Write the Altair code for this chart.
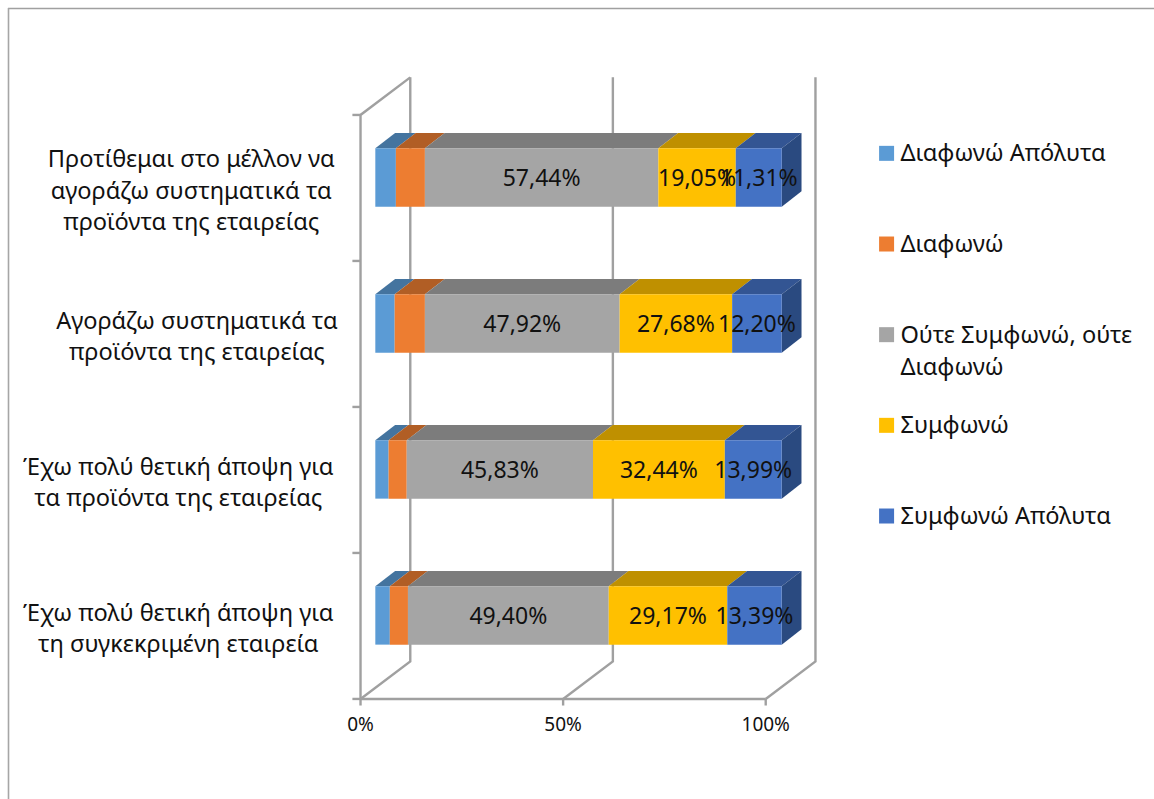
import altair as alt
import pandas as pd

FONT = "Noto Sans"

# Survey answers, top row of the chart first (percent of respondents)
CATEGORIES = [
    ["Προτίθεμαι στο μέλλον να", "αγοράζω συστηματικά τα", "προϊόντα της εταιρείας"],
    ["Αγοράζω συστηματικά τα", "προϊόντα της εταιρείας"],
    ["Έχω πολύ θετική άποψη για", "τα προϊόντα της εταιρείας"],
    ["Έχω πολύ θετική άποψη για", "τη συγκεκριμένη εταιρεία"],
]
SERIES = ["Διαφωνώ Απόλυτα", "Διαφωνώ", "Ούτε Συμφωνώ, ούτε Διαφωνώ", "Συμφωνώ", "Συμφωνώ Απόλυτα"]
LEGEND_LINES = [["Διαφωνώ Απόλυτα"], ["Διαφωνώ"], ["Ούτε Συμφωνώ, ούτε", "Διαφωνώ"], ["Συμφωνώ"], ["Συμφωνώ Απόλυτα"]]
DISAGREE_FULLY = [5.06, 4.76, 3.27, 3.57]
DISAGREE = [7.14, 7.44, 4.46, 4.46]
NEUTRAL = [57.44, 47.92, 45.83, 49.40]
AGREE = [19.05, 27.68, 32.44, 29.17]
AGREE_FULLY = [11.31, 12.20, 13.99, 13.39]
VALUES = [DISAGREE_FULLY, DISAGREE, NEUTRAL, AGREE, AGREE_FULLY]
LABELLED = {"Ούτε Συμφωνώ, ούτε Διαφωνώ", "Συμφωνώ", "Συμφωνώ Απόλυτα"}
AXIS_TICKS = [0, 50, 100]

FRONT_COLORS = ["#5B9BD5", "#ED7D31", "#A5A5A5", "#FFC000", "#4472C4"]
TOP_COLORS = ["#44749F", "#B15E25", "#7C7C7C", "#BF9000", "#335593"]
SIDE_COLOR = "#2A4A80"
LINE_COLOR = "#A0A0A0"
TEXT_COLOR = "#111111"

# Oblique projection: x is in percent, y in category rows (row centre = row index)
BAR_HALF = 0.2
BAR_DX, BAR_DY = 4.87, 0.105
BAR_SHIFT = 0.003
FRONT_SHIFT, AXIS_STRETCH = -3.64, 0.997
WALL_DX, WALL_DY = 12.24, 0.2575
CEILING, FLOOR = -0.425, 3.575

x_scale = alt.Scale(domain=[-92.35, 191.6], nice=False, zero=False)
y_scale = alt.Scale(domain=[-1.2123, 4.2603], nice=False, zero=False, reverse=True)
X = alt.X("x:Q", scale=x_scale, axis=None)
Y = alt.Y("y:Q", scale=y_scale, axis=None)
X2, Y2 = alt.X2("x2:Q"), alt.Y2("y2:Q")
series_order = alt.Scale(domain=SERIES, range=FRONT_COLORS)
series_top = alt.Scale(domain=SERIES, range=TOP_COLORS)

# Bar segments
fronts, tops, sides, labels = [], [], [], []
for row in range(len(CATEGORIES)):
    start = 0.0
    centre = row + BAR_SHIFT
    for name, values in zip(SERIES, VALUES):
        end = start + values[row]
        fronts.append(dict(x=start, x2=end, y=centre - BAR_HALF, y2=centre + BAR_HALF, series=name))
        group = f"{row}-{name}"
        tops.append(dict(x=start, x2=end, y=centre - BAR_HALF, series=name, group=group))
        tops.append(dict(x=start + BAR_DX, x2=end + BAR_DX, y=centre - BAR_HALF - BAR_DY, series=name, group=group))
        if name in LABELLED:
            labels.append(dict(x=(start + end) / 2, y=row + 0.016, text=f"{values[row]:.2f}".replace(".", ",") + "%"))
        start = end
    sides.append(dict(x=start, y=centre - BAR_HALF, y2=centre + BAR_HALF, row=row))
    sides.append(dict(x=start + BAR_DX, y=centre - BAR_HALF - BAR_DY, y2=centre + BAR_HALF - BAR_DY, row=row))


def axis_x(value):
    return FRONT_SHIFT + value * AXIS_STRETCH


# Walls, floor and tick marks
segments = []


def add_path(*points):
    seg = len(segments)
    for order, (px, py) in enumerate(points):
        segments.append(dict(x=px, y=py, seg=seg, order=order))


for tick in AXIS_TICKS:
    front = axis_x(tick)
    add_path((front + WALL_DX, CEILING - WALL_DY), (front + WALL_DX, FLOOR - WALL_DY), (front, FLOOR))
    add_path((front, FLOOR), (front, FLOOR + 0.045))
add_path((axis_x(0), FLOOR), (axis_x(100), FLOOR))
add_path((axis_x(0), FLOOR), (axis_x(0), CEILING), (axis_x(0) + WALL_DX, CEILING - WALL_DY))
for i in range(len(CATEGORIES) + 1):
    add_path((axis_x(0) - 2.0, CEILING + i), (axis_x(0), CEILING + i))

# Text: category captions are centred lines, one block per row
LINE_STEP = 0.216
CAPTION_OFFSET = 0.1
CAPTION_CENTRES = [-45.3, -43.9, -48.5, -48.5]
captions = []
for row, lines in enumerate(CATEGORIES):
    for i, line in enumerate(lines):
        captions.append(dict(
            x=CAPTION_CENTRES[row],
            y=row + CAPTION_OFFSET + (i - (len(lines) - 1) / 2) * LINE_STEP,
            text=line,
        ))
ticks_text = [dict(x=axis_x(t), y=FLOOR + 0.18, text=f"{t}%") for t in AXIS_TICKS]

# Key on the right
LEGEND_TOP, LEGEND_STEP, LEGEND_LINE = -0.162, 0.621, 0.225
legend_marks, legend_text = [], []
for i, (name, lines) in enumerate(zip(SERIES, LEGEND_LINES)):
    y0 = LEGEND_TOP + i * LEGEND_STEP
    legend_marks.append(dict(x=125.8, y=y0, series=name))
    for j, line in enumerate(lines):
        legend_text.append(dict(x=129.2, y=y0 + 0.006 + j * LEGEND_LINE, text=line))

border = alt.Chart(pd.DataFrame({"a": [0]}))
frame_top = border.mark_rule(color="#A0A0A0", strokeWidth=1.6).encode(
    x=alt.value(8), x2=alt.value(1154), y=alt.value(8.5)
)
frame_left = border.mark_rule(color="#A6A6A6", strokeWidth=1.6).encode(
    x=alt.value(8.5), y=alt.value(8), y2=alt.value(799)
)

walls = alt.Chart(pd.DataFrame(segments)).mark_line(color=LINE_COLOR, strokeWidth=2.4, clip=False).encode(
    x=X, y=Y, detail="seg:N", order="order:Q"
)
top_faces = alt.Chart(pd.DataFrame(tops)).mark_area(orient="horizontal").encode(
    y=Y, x=X, x2=X2, detail="group:N",
    color=alt.Color("series:N", scale=series_top, legend=None),
)
side_faces = alt.Chart(pd.DataFrame(sides)).mark_area(orient="vertical", color=SIDE_COLOR).encode(
    x=X, y=Y, y2=Y2, detail="row:N"
)
front_faces = alt.Chart(pd.DataFrame(fronts)).mark_rect().encode(
    x=X, x2=X2, y=Y, y2=Y2,
    color=alt.Color("series:N", scale=series_order, legend=None),
)


def text_layer(rows, size, align="center"):
    return alt.Chart(pd.DataFrame(rows)).mark_text(
        font=FONT, fontSize=size, align=align, baseline="middle", color=TEXT_COLOR
    ).encode(x=X, y=Y, text="text:N")


key_marks = alt.Chart(pd.DataFrame(legend_marks)).mark_square(size=225, opacity=1).encode(
    x=X, y=Y, color=alt.Color("series:N", scale=series_order, legend=None)
)

chart = alt.layer(
    frame_top,
    frame_left,
    walls,
    top_faces,
    side_faces,
    front_faces,
    text_layer(labels, 23),
    text_layer(captions, 23.6),
    text_layer(ticks_text, 19),
    key_marks,
    text_layer(legend_text, 23.6, "left"),
).resolve_scale(color="independent").properties(
    width=1154, height=799, padding=0, autosize=alt.AutoSizeParams(type="none"), background="white"
).configure_view(stroke=None)

chart.save("out.html", embed_options={"renderer": "svg", "actions": False})
